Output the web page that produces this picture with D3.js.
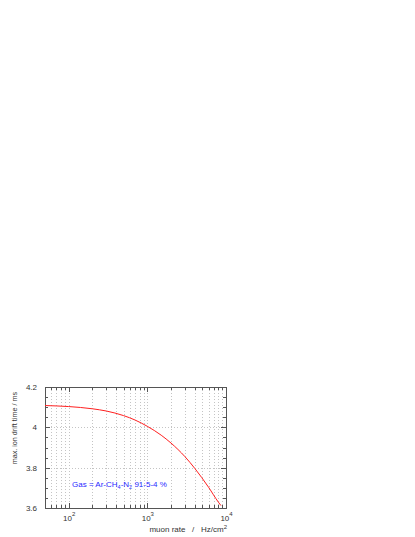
<!DOCTYPE html>
<html><head><meta charset="utf-8">
<script src="https://cdn.jsdelivr.net/npm/d3@7"></script>
<style>
html,body{margin:0;padding:0;background:#fff;}
svg{display:block;font-family:"Liberation Sans",Arial,Helvetica,sans-serif;}
</style></head>
<body>
<svg id="chart" width="415" height="537"></svg>
<script>
// ---- data ----
const muonRate = [50, 100, 200, 300, 500, 700, 1000, 1500, 2000, 3000, 4000, 6000, 8000, 8630];
const driftTime = [4.108, 4.103, 4.092, 4.081, 4.058, 4.036, 4.005, 3.961, 3.922, 3.855, 3.797, 3.703, 3.629, 3.612];
const yTickValues = [3.6, 3.8, 4.0, 4.2];
const yTickLabels = ["3.6", "3.8", "4", "4.2"];
const xDecades = [100, 1000, 10000];
const xDecadeExp = ["2", "3", "4"];
const xTitle = "muon rate   /   Hz/cm";
const yTitle = "max. ion drift time / ms";

const svg = d3.select("#chart");
const L = 45, R = 226, T = 387, B = 508;
const x = d3.scaleLog().domain([50, 10000]).range([L, R]);
const y = d3.scaleLinear().domain([3.6, 4.2]).range([B, T]);

const gridColor = "#c4c4c4", frameColor = "#555";
const textColor = "#333";
const fs = 8;

// minor x values
const xMinor = [];
[10, 100, 1000].forEach(d => { for (let k = 1; k <= 9; k++) { const v = k * d; if (v >= 50 && v <= 10000) xMinor.push(v); } });
xMinor.push(10000);

// vertical grid (dotted)
svg.append("g").selectAll("line").data(xMinor.filter(v => v > 50 && v < 10000)).join("line")
  .attr("x1", d => Math.round(x(d)) + 0.5).attr("x2", d => Math.round(x(d)) + 0.5)
  .attr("y1", T).attr("y2", B)
  .attr("stroke", gridColor).attr("stroke-width", 1).attr("stroke-dasharray", "1,2");
// horizontal grid
svg.append("g").selectAll("line").data([3.8, 4.0]).join("line")
  .attr("x1", L).attr("x2", R)
  .attr("y1", d => Math.round(y(d)) + 0.5).attr("y2", d => Math.round(y(d)) + 0.5)
  .attr("stroke", gridColor).attr("stroke-width", 1).attr("stroke-dasharray", "1,2");

// ticks (inward, mirrored)
const tickG = svg.append("g").attr("stroke", frameColor).attr("stroke-width", 1);
xMinor.forEach(v => {
  const len = xDecades.includes(v) ? 5 : 3;
  const px = Math.round(x(v)) + 0.5;
  tickG.append("line").attr("x1", px).attr("x2", px).attr("y1", B).attr("y2", B - len);
  tickG.append("line").attr("x1", px).attr("x2", px).attr("y1", T).attr("y2", T + len);
});
d3.range(0, 13).map(i => 3.6 + i * 0.05).forEach((v, i) => {
  const len = (i % 4 === 0) ? 5 : 3;
  const py = Math.round(y(v)) + 0.5;
  tickG.append("line").attr("x1", L).attr("x2", L + len).attr("y1", py).attr("y2", py);
  tickG.append("line").attr("x1", R).attr("x2", R - len).attr("y1", py).attr("y2", py);
});

// frame
svg.append("rect").attr("x", L + 0.5).attr("y", T + 0.5).attr("width", R - L).attr("height", B - T)
  .attr("fill", "none").attr("stroke", frameColor).attr("stroke-width", 1);

// curve
const line = d3.line().x((d, i) => x(muonRate[i])).y(d => y(d)).curve(d3.curveMonotoneX);
svg.append("path").attr("d", line(driftTime)).attr("fill", "none")
  .attr("stroke", "#ff2020").attr("stroke-width", 1);

// y tick labels
svg.append("g").selectAll("text").data(yTickValues).join("text")
  .attr("x", 37).attr("y", d => y(d) + 3).attr("text-anchor", "end")
  .attr("font-size", fs).attr("fill", textColor).text((d, i) => yTickLabels[i]);

// x tick labels 10^n
xDecades.forEach((v, i) => {
  const t = svg.append("text").attr("x", x(v) + 0.5).attr("y", 521).attr("text-anchor", "middle")
    .attr("font-size", fs).attr("fill", textColor);
  t.append("tspan").text("10");
  t.append("tspan").attr("dy", -5).attr("font-size", 6).text(xDecadeExp[i]);
});

// axis titles
const xt = svg.append("text").attr("x", 227).attr("y", 532).attr("text-anchor", "end")
  .attr("font-size", fs).attr("fill", textColor).attr("xml:space", "preserve");
xt.append("tspan").text(xTitle);
xt.append("tspan").attr("dy", -3.5).attr("font-size", 6).text("2");

svg.append("text").attr("transform", "translate(17,392) rotate(-90)").attr("text-anchor", "end")
  .attr("font-size", 7.2).attr("fill", textColor).text(yTitle);

// annotation
const ann = svg.append("text").attr("x", 72).attr("y", 487).attr("font-size", 8).attr("fill", "#2a2aff");
ann.append("tspan").text("Gas = Ar-CH");
ann.append("tspan").attr("dy", 2).attr("font-size", 5.5).text("4");
ann.append("tspan").attr("dy", -2).text("-N");
ann.append("tspan").attr("dy", 2).attr("font-size", 5.5).text("2");
ann.append("tspan").attr("dy", -2).text(" 91-5-4 %");
</script>
</body></html>
